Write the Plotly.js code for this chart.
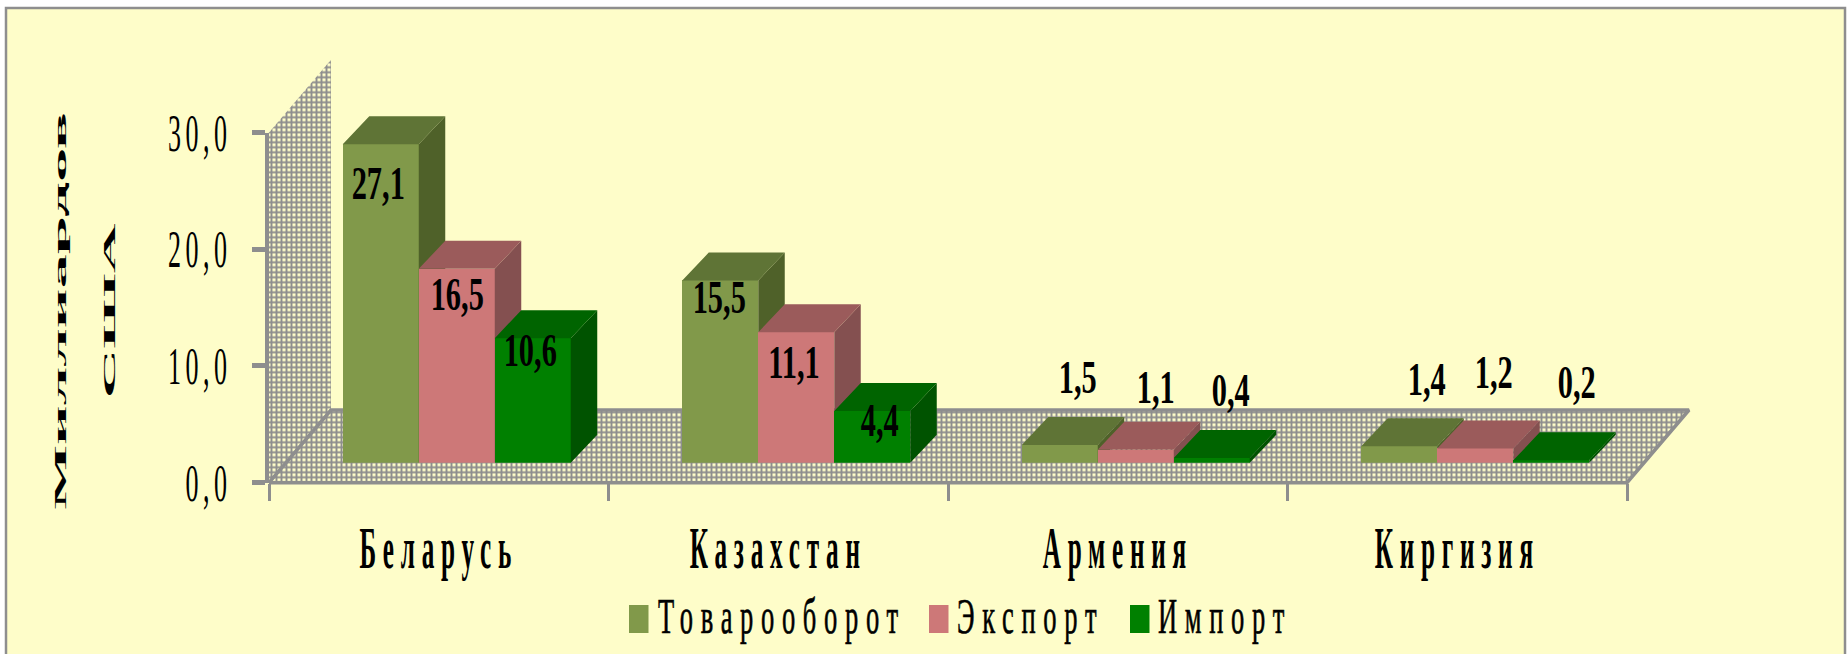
<!DOCTYPE html>
<html lang="ru">
<head>
<meta charset="utf-8">
<title>Товарооборот</title>
<script src="https://cdn.plot.ly/plotly-3.0.1.min.js"></script>
<style>html,body{margin:0;padding:0;background:#fff}#chart{width:1847px;height:654px}</style>
</head>
<body>
<div id="chart"></div>
<script>
// ---- data ----
const categories = ['Беларусь', 'Казахстан', 'Армения', 'Киргизия'];
const turnover = [27.1, 15.5, 1.5, 1.4];
const exportsV = [16.5, 11.1, 1.1, 1.2];
const importsV = [10.6, 4.4, 0.4, 0.2];
const seriesNames = ['Товарооборот', 'Экспорт', 'Импорт'];
const yTicks = [0, 10, 20, 30];

// ---- styling ----
const frontColors = ['#81994A', '#CD7878', '#008000'];
const topColors = ['#5F7436', '#9B5B5B', '#006400'];
const sideColors = ['#4F6129', '#845050', '#005300'];
const CREAM = '#FEFDC9', GRAY = '#8E8E8E', FONT = '"Liberation Serif","Times New Roman",serif';
// label nudges from the top-centre of each bar, px [series][category]
const labelDx = [[-2, -1, 18, 28], [1, -2, 20, 19], [-2, 8, 19, 26]];
const labelDy = [[39, 17, -68, -67], [26, 30, -62, -76], [12, 9, -68, -78]];

// ---- layout geometry in window pixels ----
const W = 1847, H = 654;
const px = v => v / W, py = v => 1 - v / H;
const axL = 269, axR = 1627, axB = 482.7, axT = 132.5;
const catPx = (axR - axL) / 4, unitPx = (axB - axT) / 30;
const barOffX = 18, barB = 462.7, barUnit = 11.75;
const barW = 76 / catPx;
const depthX = 26.5 / catPx, depthY = 28 / barUnit;
const floorX = 62 / catPx, floorY = 72.7 / unitPx;
const pad = 10;

const values = [turnover, exportsV, importsV];
const traces = [];
const poly = pts => ({ x: pts.map(p => p[0]), y: pts.map(p => p[1]) });

// wall and floor
const pattern = { shape: '+', fgcolor: GRAY, bgcolor: CREAM, size: 5, solidity: 0.62 };
traces.push(Object.assign(poly([[-0.5, 0], [-0.5 + floorX, floorY], [-0.5 + floorX, 30 + floorY], [-0.5, 30], [-0.5, 0]]), {
  type: 'scatter', mode: 'none', fill: 'toself', fillcolor: CREAM, fillpattern: pattern, xaxis: 'x', yaxis: 'y', showlegend: false, hoverinfo: 'skip'
}));
traces.push(Object.assign(poly([[-0.5, 0], [3.5, 0], [3.5 + floorX, floorY], [-0.5 + floorX, floorY], [-0.5, 0]]), {
  type: 'scatter', mode: 'lines', line: { color: GRAY, width: 3.5 }, fill: 'toself', fillcolor: CREAM, fillpattern: pattern, xaxis: 'x', yaxis: 'y', showlegend: false, hoverinfo: 'skip'
}));
// carrier of the category axis
traces.push({ type: 'scatter', mode: 'markers', x: categories, y: categories.map(() => 0), marker: { opacity: 0 }, xaxis: 'x2', yaxis: 'y2', showlegend: false, hoverinfo: 'skip' });

// one subplot for each series so that later series paint over earlier ones
values.forEach((vals, s) => {
  const xa = 'x' + (s + 3), ya = 'y' + (s + 3);
  const lefts = vals.map((v, i) => i + (s - 1.5) * barW);
  const side = { x: [], y: [] }, top = { x: [], y: [] };
  vals.forEach((v, i) => {
    const a = lefts[i], b = a + barW;
    side.x.push(b, b + depthX, b + depthX, b, b, null);
    side.y.push(0, depthY, v + depthY, v, 0, null);
    top.x.push(a, b, b + depthX, a + depthX, a, null);
    top.y.push(v, v, v + depthY, v + depthY, v, null);
  });
  traces.push({ type: 'bar', name: seriesNames[s], x: vals.map((v, i) => i + (s - 1) * barW), y: vals, width: barW, text: categories, hovertemplate: '%{text}: %{y}<extra>' + seriesNames[s] + '</extra>', textposition: 'none', marker: { color: frontColors[s], line: { width: 0 } }, xaxis: xa, yaxis: ya });
  traces.push({ type: 'scatter', mode: 'none', fill: 'toself', fillcolor: sideColors[s], x: side.x, y: side.y, xaxis: xa, yaxis: ya, showlegend: false, hoverinfo: 'skip' });
  traces.push({ type: 'scatter', mode: 'none', fill: 'toself', fillcolor: topColors[s], x: top.x, y: top.y, xaxis: xa, yaxis: ya, showlegend: false, hoverinfo: 'skip' });
});

const annotations = [];
values.forEach((vals, s) => vals.forEach((v, i) => annotations.push({
  x: i + (s - 1) * barW, y: v, xref: 'x' + (s + 3), yref: 'y' + (s + 3),
  text: v.toFixed(1).replace('.', ','), showarrow: false, xanchor: 'center', yanchor: 'middle',
  xshift: labelDx[s][i], yshift: -labelDy[s][i],
  font: { family: FONT, size: 46, color: '#000', weight: 700 }
})));

const hidden = { visible: false, fixedrange: true };
const layout = {
  width: W, height: H, margin: { l: 0, r: 0, t: 0, b: 0, autoexpand: false }, autosize: false,
  paper_bgcolor: '#fff', plot_bgcolor: 'rgba(0,0,0,0)', separators: ', ', bargap: 0,
  font: { family: FONT, color: '#000' },
  shapes: [{ type: 'rect', xref: 'paper', yref: 'paper', layer: 'below', x0: px(6), x1: px(1845), y0: py(8), y1: py(670), fillcolor: CREAM, line: { color: GRAY, width: 2.5 } }],
  // stage: wall and floor
  xaxis: Object.assign({}, hidden, { domain: [px(axL - pad), px(axR + 62 + pad)], range: [-0.5 - pad / catPx, 3.5 + floorX + pad / catPx], anchor: 'y' }),
  yaxis: Object.assign({}, hidden, { domain: [py(axB + pad), py(axT - 72.7 - pad)], range: [-pad / unitPx, 30 + floorY + pad / unitPx], anchor: 'x' }),
  // visible axes
  xaxis2: { domain: [px(axL), px(axR)], type: 'category', categoryorder: 'array', categoryarray: categories, range: [-0.5, 3.5], tickson: 'boundaries', ticks: 'outside', ticklen: 17, tickwidth: 3, tickcolor: GRAY, showline: false, showgrid: false, zeroline: false, anchor: 'y2', fixedrange: true, tickfont: { family: FONT, size: 56, color: '#000', weight: 700 } },
  yaxis2: { domain: [py(axB), py(axT)], range: [0, 30], tickvals: yTicks, tickformat: '.1f', ticks: 'outside', ticklen: 13, tickwidth: 5, tickcolor: GRAY, showline: true, linecolor: GRAY, linewidth: 4, showgrid: false, zeroline: false, anchor: 'x2', fixedrange: true, ticklabelstandoff: 10, tickfont: { family: FONT, size: 52, color: '#000' }, title: { text: 'Миллиардов<br>США', font: { family: FONT, size: 40, color: '#000', weight: 700 } } },
  legend: { orientation: 'h', x: px(629), xanchor: 'left', y: py(590), yanchor: 'top', bgcolor: 'rgba(0,0,0,0)', font: { family: FONT, size: 50, color: '#000' }, itemwidth: 30, traceorder: 'normal', itemclick: false, itemdoubleclick: false },
  annotations
};
[3, 4, 5].forEach(n => {
  layout['xaxis' + n] = Object.assign({}, hidden, { domain: [px(axL + barOffX), px(axR + barOffX + 40)], range: [-0.5, 3.5 + 40 / catPx], anchor: 'y' + n });
  layout['yaxis' + n] = Object.assign({}, hidden, { domain: [py(barB), py(barB - 30 * barUnit - 30)], range: [0, 30 + 30 / barUnit], anchor: 'x' + n });
});

// The reference's text is tall and narrow with wide tracking: squeeze real text elements.
function squeeze(el, sx, sy, anchor, spacing) {
  if (spacing) el.style.letterSpacing = spacing + 'px';
  const b = el.getBBox();
  const ax = anchor === 'start' ? b.x : anchor === 'end' ? b.x + b.width : b.x + b.width / 2;
  const ay = b.y + b.height / 2;
  const prev = el.getAttribute('transform') || '';
  el.setAttribute('transform', `${prev} translate(${ax},${ay}) scale(${sx},${sy}) translate(${-ax},${-ay})`);
}
function moveTo(el, opts) {
  const r = el.getBoundingClientRect();
  const dx = opts.left !== undefined ? opts.left - r.left : opts.cx !== undefined ? opts.cx - (r.left + r.right) / 2 : 0;
  const dy = opts.cy !== undefined ? opts.cy - (r.top + r.bottom) / 2 : 0;
  el.setAttribute('transform', `translate(${dx},${dy}) ${el.getAttribute('transform') || ''}`);
}

const gd = document.getElementById('chart');
Plotly.newPlot(gd, traces, layout, { displayModeBar: false, responsive: false }).then(() => {
  gd.querySelectorAll('.y2tick text').forEach(t => squeeze(t, 0.5, 1, 'end', 9));
  gd.querySelectorAll('.x2tick text').forEach(t => { squeeze(t, 0.45, 1.04, 'middle', 15); moveTo(t, { cy: 549 }); });
  gd.querySelectorAll('.annotation-text').forEach(t => squeeze(t, 0.66, 1, 'middle', 0));
  const title = gd.querySelector('.y2title');
  if (title) {
    const lines = title.querySelectorAll('tspan.line');
    if (lines[1]) lines[1].setAttribute('dy', '2.9em');
    squeeze(title, 1.72, 0.42, 'middle', 0);
    moveTo(title, { cx: 85, cy: 311 });
  }
  const scroll = gd.querySelector('.legend .scrollbox');
  if (scroll) scroll.removeAttribute('clip-path');
  const lgSwatch = [629, 929, 1130], lgText = [658, 957, 1158];
  gd.querySelectorAll('.legend g.traces').forEach((g, i) => {
    const t = g.querySelector('.legendtext');
    t.style.stroke = '#000';
    t.style.strokeWidth = '0.7px';
    squeeze(t, 0.53, 1, 'start', 14.5);
    moveTo(t, { left: lgText[i], cy: 616 });
    const p = g.querySelector('.legendpoints path');
    if (p) {
      p.setAttribute('d', 'M-9.75,14H9.75V-14H-9.75Z');
      moveTo(p, { left: lgSwatch[i], cy: 619 });
    }
  });
});
</script>
</body>
</html>
